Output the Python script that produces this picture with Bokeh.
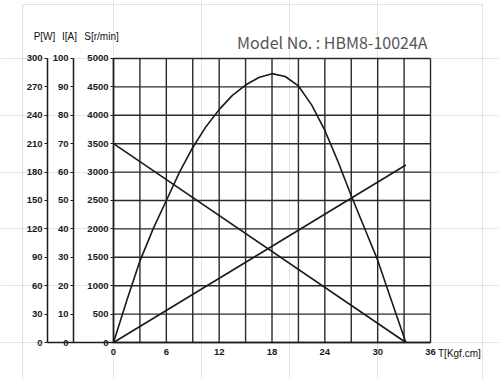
from bokeh.plotting import figure
from bokeh.models import Range1d, LinearAxis, FixedTicker, Label, BoxAnnotation
from bokeh.embed import file_html
from bokeh.resources import INLINE

# ---- data ----
torque_ticks = [0, 6, 12, 18, 24, 30, 36]
torque_grid = [0, 3, 6, 9, 12, 15, 18, 21, 24, 27, 30, 33, 36]
speed_ticks = [0, 500, 1000, 1500, 2000, 2500, 3000, 3500, 4000, 4500, 5000]
current_ticks = [0, 10, 20, 30, 40, 50, 60, 70, 80, 90, 100]
power_ticks = [0, 30, 60, 90, 120, 150, 180, 210, 240, 270, 300]

speed_T = [0, 33.2]
speed_S = [3500, 0]
current_T = [0, 33.2]
current_I = [0, 62.5]
power_T = [0, 1.5, 3, 4.5, 6, 7.5, 9, 10.5, 12, 13.5, 15, 16.5, 18, 19.5,
           21, 22.5, 24, 25.5, 27, 28.5, 30, 31.5, 33.2]
power_P = [0, 44, 86, 120, 150, 180, 206, 228, 246, 261, 272, 280, 284, 281,
           271, 251, 224, 191, 155, 121, 87, 46, 0]

FONT = "Liberation Sans"
INK = "#1a1a1a"

# ranges chosen so the frame covers the whole canvas
S_START, S_END = -651.4, 6021.1
T_START, T_END = -12.832, 43.834
P_AXIS_X = -7.495
I_AXIS_X = -4.54

p = figure(width=499, height=379,
           x_range=Range1d(T_START, T_END), y_range=Range1d(S_START, S_END),
           output_backend="svg", toolbar_location=None,
           x_axis_location=None, y_axis_location=None,
           min_border=0)
p.extra_y_ranges = {
    "P": Range1d(S_START * power_ticks[-1] / speed_ticks[-1],
                 S_END * power_ticks[-1] / speed_ticks[-1]),
    "I": Range1d(S_START * current_ticks[-1] / speed_ticks[-1],
                 S_END * current_ticks[-1] / speed_ticks[-1]),
}
p.outline_line_color = None
p.background_fill_color = "white"
p.border_fill_color = "white"


def style_axis(ax, standoff=2, tick_out=3):
    ax.major_tick_out = tick_out
    ax.major_tick_in = 0
    ax.minor_tick_out = 0
    ax.minor_tick_in = 0
    ax.axis_line_color = INK
    ax.axis_line_width = 1.5
    ax.major_tick_line_color = INK
    ax.major_tick_line_width = 1.2
    ax.major_label_text_font = FONT
    ax.major_label_text_font_size = "9.5px"
    ax.major_label_text_font_style = "bold"
    ax.major_label_text_color = "#1a1a1a"
    ax.major_label_standoff = standoff


xaxis = LinearAxis(ticker=FixedTicker(ticks=torque_ticks), fixed_location=0,
                   bounds=(P_AXIS_X, torque_ticks[-1]))
style_axis(xaxis, standoff=6, tick_out=0)
p.add_layout(xaxis, "below")

paxis = LinearAxis(y_range_name="P", ticker=FixedTicker(ticks=power_ticks),
                   fixed_location=P_AXIS_X, bounds=(power_ticks[0], power_ticks[-1]))
style_axis(paxis, standoff=2)
p.add_layout(paxis, "left")

iaxis = LinearAxis(y_range_name="I", ticker=FixedTicker(ticks=current_ticks),
                   fixed_location=I_AXIS_X, bounds=(current_ticks[0], current_ticks[-1]))
style_axis(iaxis, standoff=2)
p.add_layout(iaxis, "left")

saxis = LinearAxis(ticker=FixedTicker(ticks=speed_ticks), fixed_location=0,
                   bounds=(speed_ticks[0], speed_ticks[-1]))
style_axis(saxis, standoff=2)
p.add_layout(saxis, "left")

# grid lines limited to the torque/speed area
n = len(torque_grid)
m = len(speed_ticks)
p.segment(x0=torque_grid, y0=[speed_ticks[0]] * n, x1=torque_grid,
          y1=[speed_ticks[-1]] * n, line_color="#2a2a2a", line_width=1.4)
p.segment(x0=[torque_grid[0]] * m, y0=speed_ticks, x1=[torque_grid[-1]] * m,
          y1=speed_ticks, line_color="#2a2a2a", line_width=1.4)

# curves
p.line(speed_T, speed_S, line_color=INK, line_width=1.6)
p.line(current_T, current_I, y_range_name="I", line_color=INK, line_width=1.6)
p.line(power_T, power_P, y_range_name="P", line_color=INK, line_width=1.6)

# outer light frame
p.add_layout(BoxAnnotation(left=-10.334, right=41.90, top=5950.7, bottom=-3000,
                           fill_alpha=0, line_color="#a0a0a0", line_width=1.2))

lab_kw = dict(text_font=FONT, text_font_size="10px",
              text_color="#111111", text_baseline="middle", text_align="center")
p.add_layout(Label(x=-7.836, y=5387, text="P[W]", **lab_kw))
p.add_layout(Label(x=-4.997, y=5387, text="I[A]", **lab_kw))
p.add_layout(Label(x=-1.363, y=5387, text="S[r/min]", **lab_kw))
p.add_layout(Label(x=36.85, y=-190, text="T[Kgf.cm]",
                   **dict(lab_kw, text_align="left")))
p.add_layout(Label(x=35.66, y=5282, text="Model No. : HBM8-10024A",
                   text_font="Noto Sans CJK KR", text_font_size="16px",
                   text_color="#555555", text_baseline="middle",
                   text_align="right"))

open("out.html", "w").write(file_html(p, INLINE))
